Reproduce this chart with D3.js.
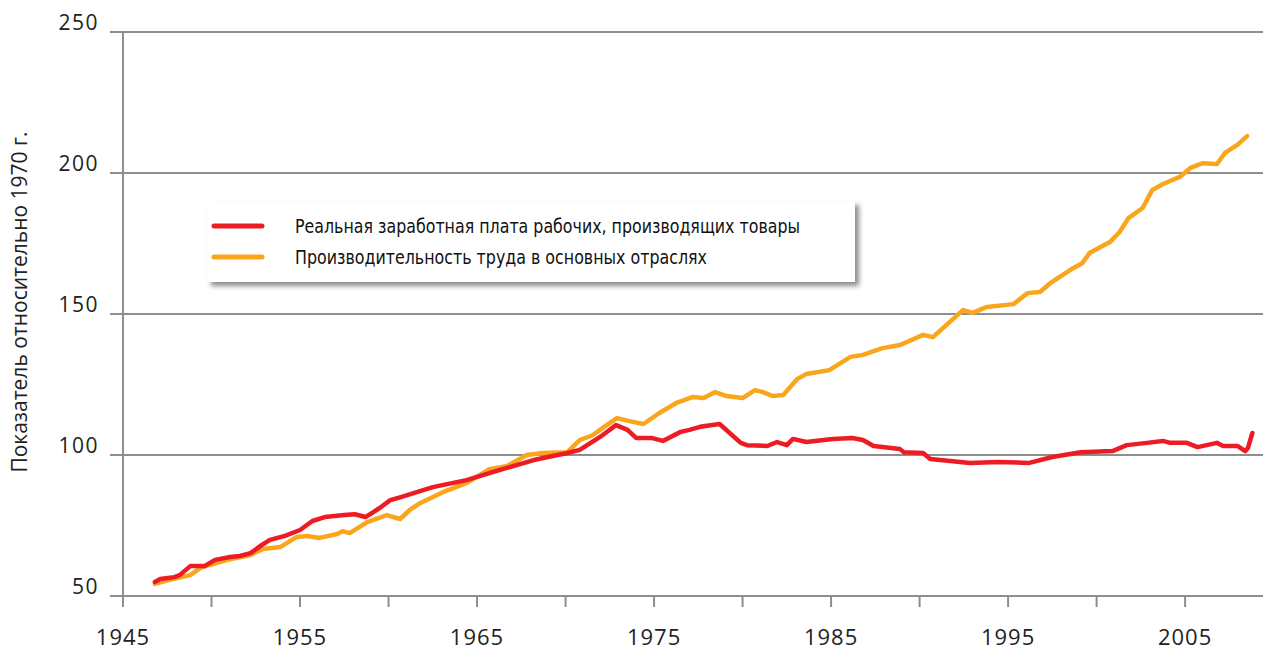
<!DOCTYPE html>
<html>
<head>
<meta charset="utf-8">
<script src="https://cdn.jsdelivr.net/npm/d3@7"></script>
<style>
  body { margin: 0; background: #fff; }
  svg { display: block; }
</style>
</head>
<body>
<div id="chart"></div>
<script>
// Реальная зарплата vs производительность, индекс (1970 = 100)
const wageYears = [1946.8, 1947.1, 1947.9, 1948.2, 1948.8, 1949.6, 1950.2, 1951.05, 1951.6, 1952.2, 1952.85, 1953.3, 1954.15, 1955.0, 1955.7, 1956.4, 1957.5, 1958.1, 1958.7, 1959.5, 1960.1, 1960.65, 1962.5, 1964.4, 1966.3, 1968.2, 1970.1, 1970.8, 1971.95, 1972.85, 1973.5, 1974.0, 1974.9, 1975.5, 1976.5, 1977.0, 1977.6, 1978.7, 1979.9, 1980.25, 1981.4, 1981.95, 1982.5, 1982.85, 1983.6, 1985.1, 1986.2, 1986.8, 1987.4, 1988.9, 1989.1, 1990.2, 1990.6, 1992.85, 1994.4, 1996.2, 1997.5, 1999.1, 2000.9, 2001.7, 2002.85, 2003.75, 2004.15, 2005.1, 2005.7, 2006.8, 2007.15, 2007.95, 2008.4, 2008.55, 2008.8];
const wageValues = [55.0, 56.0, 56.7, 57.4, 60.6, 60.6, 62.8, 63.8, 64.2, 65.2, 68.1, 69.9, 71.3, 73.4, 76.6, 78.0, 78.7, 79.0, 78.0, 81.2, 84.0, 85.0, 88.6, 91.1, 94.7, 98.2, 100.7, 101.8, 106.4, 110.6, 108.9, 106.0, 106.0, 105.0, 108.2, 108.9, 110.0, 111.0, 104.3, 103.5, 103.2, 104.6, 103.5, 105.7, 104.6, 105.7, 106.0, 105.3, 103.2, 102.1, 101.0, 100.7, 98.6, 97.2, 97.5, 97.2, 99.3, 101.0, 101.4, 103.5, 104.3, 105.0, 104.3, 104.3, 102.8, 104.3, 103.2, 103.2, 101.4, 102.5, 107.8];

const prodYears = [1946.8, 1947.8, 1948.8, 1949.35, 1949.9, 1950.9, 1952.2, 1952.9, 1953.9, 1954.8, 1955.4, 1956.1, 1957.1, 1957.4, 1957.8, 1958.8, 1959.9, 1960.65, 1961.2, 1961.8, 1963.1, 1964.4, 1965.7, 1966.7, 1967.8, 1968.7, 1970.1, 1970.8, 1971.55, 1972.1, 1972.9, 1973.6, 1974.4, 1975.3, 1976.3, 1977.2, 1977.8, 1978.45, 1979.1, 1980.0, 1980.7, 1981.15, 1981.7, 1982.3, 1983.1, 1983.6, 1984.9, 1986.1, 1986.8, 1987.9, 1988.9, 1990.2, 1990.75, 1992.45, 1993.0, 1993.8, 1995.3, 1996.1, 1996.8, 1997.4, 1998.5, 1999.2, 1999.6, 2000.75, 2001.3, 2001.8, 2002.6, 2003.15, 2003.75, 2004.7, 2005.3, 2006.0, 2006.8, 2007.25, 2007.95, 2008.5];
const prodValues = [54.3, 56.0, 57.4, 59.9, 61.0, 62.8, 64.5, 66.7, 67.4, 70.9, 71.3, 70.6, 72.0, 73.0, 72.3, 76.2, 78.7, 77.3, 80.5, 83.0, 86.9, 90.0, 95.0, 96.1, 100.0, 100.7, 101.0, 105.3, 107.1, 109.6, 113.1, 112.0, 111.0, 114.9, 118.6, 120.6, 120.2, 122.3, 120.9, 120.2, 123.0, 122.3, 120.9, 121.3, 127.0, 128.7, 130.1, 134.8, 135.5, 137.9, 139.0, 142.6, 141.8, 151.4, 150.4, 152.5, 153.5, 157.4, 157.8, 161.0, 165.6, 168.1, 171.6, 175.5, 179.1, 184.0, 187.6, 194.0, 196.1, 198.6, 201.8, 203.5, 203.2, 207.1, 210.0, 213.1];

const seriesNames = ['Реальная заработная плата рабочих, производящих товары', 'Производительность труда в основных отраслях'];
const yTicks = [50, 100, 150, 200, 250];
const xLabelYears = [1945, 1955, 1965, 1975, 1985, 1995, 2005];
const xMinorYears = d3.range(1945, 2010, 5);
const yTitle = 'Показатель относительно 1970 г.';

const W = 1263, H = 650;
const colors = ['#ed1c24', '#f9a61c'];
const grid = '#8e8e8e';

const svg = d3.select('#chart').append('svg').attr('width', W).attr('height', H);

const x = d3.scaleLinear().domain([1945, 2009.4]).range([123, 1263]);
const y = d3.scaleLinear().domain([50, 250]).range([596, 32]);

// сетка + подписи Y
const gy = svg.append('g');
gy.selectAll('line').data(yTicks).enter().append('line')
  .attr('x1', 110).attr('x2', W)
  .attr('y1', d => y(d)).attr('y2', d => y(d))
  .attr('stroke', grid).attr('stroke-width', 2);
gy.selectAll('text').data(yTicks).enter().append('text')
  .attr('x', 99).attr('y', d => y(d) - 2)
  .attr('text-anchor', 'end')
  .attr('font-family', 'Open Sans, sans-serif').attr('font-size', 21)
  .attr('letter-spacing', 1.5).attr('fill', '#222')
  .text(d => d);

// ось Y
svg.append('line').attr('x1', 123).attr('x2', 123).attr('y1', y(250)).attr('y2', y(50))
  .attr('stroke', grid).attr('stroke-width', 2);

// ось X: засечки
svg.append('g').selectAll('line').data(xMinorYears).enter().append('line')
  .attr('x1', d => x(d)).attr('x2', d => x(d))
  .attr('y1', y(50)).attr('y2', y(50) + 11)
  .attr('stroke', grid).attr('stroke-width', 2);
svg.append('g').selectAll('text').data(xLabelYears).enter().append('text')
  .attr('x', d => x(d)).attr('y', 645)
  .attr('text-anchor', 'middle')
  .attr('font-family', 'Open Sans, sans-serif').attr('font-size', 22)
  .attr('letter-spacing', 1).attr('fill', '#222')
  .text(d => d);

// заголовок оси Y
svg.append('text')
  .attr('transform', 'translate(27,302) rotate(-90)')
  .attr('text-anchor', 'middle')
  .attr('font-family', 'Open Sans, sans-serif').attr('font-size', 21)
  .attr('fill', '#222')
  .text(yTitle);

// линии
const line = d3.line().x(d => x(d[0])).y(d => y(d[1]));
const wage = wageYears.map((t, i) => [t, wageValues[i]]);
const prod = prodYears.map((t, i) => [t, prodValues[i]]);

svg.append('path').datum(prod)
  .attr('d', line).attr('fill', 'none')
  .attr('stroke', colors[1]).attr('stroke-width', 4.5)
  .attr('stroke-linejoin', 'round').attr('stroke-linecap', 'round');
svg.append('path').datum(wage)
  .attr('d', line).attr('fill', 'none')
  .attr('stroke', colors[0]).attr('stroke-width', 4.5)
  .attr('stroke-linejoin', 'round').attr('stroke-linecap', 'round');

// легенда
const defs = svg.append('defs');
const f = defs.append('filter').attr('id', 'shadow')
  .attr('x', '-5%').attr('y', '-20%').attr('width', '115%').attr('height', '150%');
f.append('feDropShadow').attr('dx', 4).attr('dy', 4).attr('stdDeviation', 2.5)
  .attr('flood-color', '#000').attr('flood-opacity', 0.45);

const legendWidths = [505, 412]; // ширина строк в оригинале (узкий шрифт)
const lg = svg.append('g');
lg.append('rect').attr('x', 207).attr('y', 201).attr('width', 648).attr('height', 81)
  .attr('fill', '#fff').attr('filter', 'url(#shadow)');
seriesNames.forEach((name, i) => {
  const cy = 226 + i * 31;
  lg.append('line').attr('x1', 214).attr('x2', 262).attr('y1', cy).attr('y2', cy)
    .attr('stroke', colors[i]).attr('stroke-width', 5).attr('stroke-linecap', 'round');
  lg.append('text').attr('x', 295).attr('y', cy + 7)
    .attr('font-family', '"Liberation Sans Narrow", "DejaVu Sans Condensed", sans-serif')
    .attr('font-size', 20).attr('fill', '#111')
    .attr('textLength', legendWidths[i]).attr('lengthAdjust', 'spacingAndGlyphs')
    .text(name);
});
</script>
</body>
</html>
